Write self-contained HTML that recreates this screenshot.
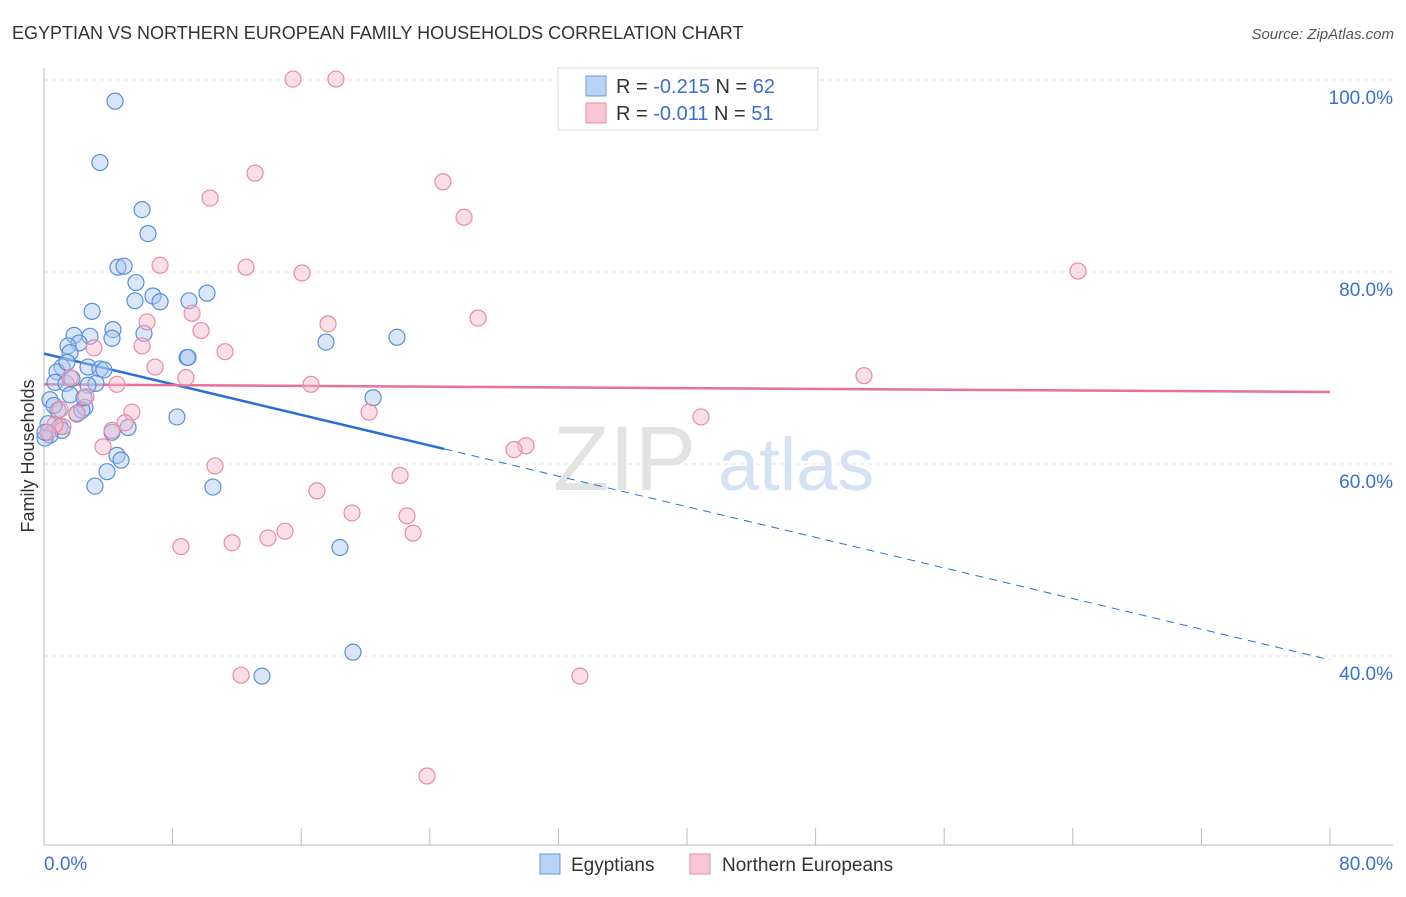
<!DOCTYPE html>
<html><head><meta charset="utf-8">
<style>
body{margin:0;background:#fff;font-family:"Liberation Sans",sans-serif;}
svg text{font-family:"Liberation Sans",sans-serif;}
</style></head>
<body>
<svg id="chart" width="1406" height="892" viewBox="0 0 1406 892">
<text x="12" y="39" font-size="18" fill="#333">EGYPTIAN VS NORTHERN EUROPEAN FAMILY HOUSEHOLDS CORRELATION CHART</text>
<text x="1394" y="39" font-size="15" fill="#555" font-style="italic" text-anchor="end">Source: ZipAtlas.com</text>
<g>
<text x="553" y="490" font-size="92" fill="#d8d8d8" font-family="Liberation Serif" opacity="0.7">ZIP</text>
<text x="718" y="490" font-size="74" fill="#b8d0ee" opacity="0.6">atlas</text>
</g>
<g id="grid"></g>
<g id="axes"></g>
<g id="trends"></g>
<g id="points"></g>
<text transform="translate(34,456) rotate(-90)" font-size="18" fill="#333" text-anchor="middle">Family Households</text>
<g>
<rect x="558" y="68" width="260" height="62" fill="#fff" stroke="#ddd"/>
<rect x="586" y="76" width="20" height="20" fill="#b8d4f4" stroke="#6a9ad8"/>
<text x="616" y="93" font-size="20" fill="#333">R = <tspan fill="#3a70d0">-0.215</tspan>   N = <tspan fill="#3a70d0">62</tspan></text>
<rect x="586" y="103" width="20" height="20" fill="#f9c6d6" stroke="#e88aa8"/>
<text x="616" y="120" font-size="20" fill="#333">R = <tspan fill="#3a70d0">-0.011</tspan>   N = <tspan fill="#3a70d0">51</tspan></text>
</g>
<g>
<rect x="540" y="854" width="20" height="20" fill="#b8d4f4" stroke="#6a9ad8"/>
<text x="571" y="871" font-size="19" fill="#333">Egyptians</text>
<rect x="690" y="854" width="20" height="20" fill="#f9c6d6" stroke="#e88aa8"/>
<text x="722" y="871" font-size="19" fill="#333">Northern Europeans</text>
</g>
</svg>
<script>
const blueX=[4.42,3.48,6.10,6.47,4.60,4.98,5.72,5.66,6.78,7.22,10.14,9.02,2.99,1.87,2.86,2.18,4.29,4.23,6.22,1.49,1.62,8.90,8.96,17.54,21.96,1.12,0.81,2.74,3.48,3.73,0.68,1.37,1.74,3.23,2.74,1.62,20.47,0.37,0.87,2.05,2.55,2.36,8.27,0.25,1.00,1.12,0.37,4.23,5.23,0.06,4.54,4.79,3.92,3.17,10.51,18.41,19.22,13.56,2.49,1.43,0.62,0.06];
const blueY=[97.8,91.4,86.5,84.0,80.5,80.6,78.9,77.0,77.5,76.9,77.8,77.0,75.9,73.4,73.3,72.6,74.0,73.1,73.6,72.3,71.6,71.1,71.1,72.7,73.2,70.1,69.6,70.1,69.9,69.8,68.5,68.4,68.9,68.4,68.2,67.2,66.9,66.7,65.6,65.2,65.9,65.6,64.9,64.2,63.9,63.5,63.0,63.3,63.8,62.7,60.9,60.4,59.2,57.7,57.6,51.3,40.4,37.9,66.9,70.6,66.1,63.3];
const pinkX=[15.49,18.16,13.13,24.82,10.33,26.13,7.22,12.57,16.05,64.32,27.0,9.21,6.41,17.67,9.77,3.11,6.10,11.26,6.91,8.83,16.61,51.01,1.62,4.54,2.61,1.00,5.47,2.05,20.22,40.87,5.04,1.18,4.23,3.67,29.98,29.24,10.64,22.15,16.98,19.16,22.58,22.96,14.99,13.93,11.70,8.52,12.26,33.34,23.83,0.68,0.25];
const pinkY=[100.1,100.1,90.3,89.4,87.7,85.7,80.7,80.5,79.9,80.1,75.2,75.7,74.8,74.6,73.9,72.1,72.3,71.7,70.1,69.0,68.3,69.2,69.0,68.3,67.0,65.7,65.4,65.3,65.4,64.9,64.3,63.9,63.5,61.8,61.9,61.5,59.8,58.8,57.2,54.9,54.6,52.8,53.0,52.3,51.8,51.4,38.0,37.9,27.5,64.1,63.3];
const yTicks=[100,80,60,40];
const yTickLabels=["100.0%","80.0%","60.0%","40.0%"];
const xTickLabels=["0.0%","80.0%"];
const blueTrend=[71.5,39.6];
const blueSolidEnd=24.9;
const pinkTrend=[68.3,67.5];

const NS="http://www.w3.org/2000/svg";
const xs=v=>44+v*16.075;
const ys=v=>80+(100-v)*9.6;
function mk(tag,attrs,parent){const e=document.createElementNS(NS,tag);for(const k in attrs)e.setAttribute(k,attrs[k]);parent.appendChild(e);return e;}
const grid=document.getElementById('grid'),axes=document.getElementById('axes'),trends=document.getElementById('trends'),pts=document.getElementById('points');
yTicks.forEach((t,i)=>{
 const l=mk('line',{x1:44,x2:1393,y1:ys(t),y2:ys(t),stroke:'#e2e2e2','stroke-dasharray':'4,4'},grid);
 
 
 const tx=mk('text',{x:1393,y:ys(t)+24,'font-size':19,fill:'#3a70d0','text-anchor':'end'},axes);
 tx.textContent=yTickLabels[i];
 
 
});
let a=mk('line',{x1:44,x2:44,y1:68,y2:845,stroke:'#bbb'},axes);


a=mk('line',{x1:44,x2:1393,y1:845,y2:845,stroke:'#bbb'},axes);


for(let i=0;i<=10;i++){
 const t=mk('line',{x1:xs(i*8),x2:xs(i*8),y1:828,y2:845,stroke:'#bbb'},axes);
 
 
}
let t0=mk('text',{x:44,y:870,'font-size':19,fill:'#3a70d0'},axes);t0.textContent=xTickLabels[0];


let t1=mk('text',{x:1393,y:870,'font-size':19,fill:'#3a70d0','text-anchor':'end'},axes);t1.textContent=xTickLabels[1];



function dot(x,y,fill,stroke,name){
 const c=mk('circle',{cx:xs(x),cy:ys(y),r:8,fill:fill,'fill-opacity':0.45,stroke:stroke,'stroke-width':1.2},pts);
 
 
}
blueX.forEach((x,i)=>dot(x,blueY[i],'#a8c8f0','#5b8fd8','egyptian-point'));
pinkX.forEach((x,i)=>dot(x,pinkY[i],'#f5b8cc','#e88aa8','northern-european-point'));
const bAt=v=>blueTrend[0]+(blueTrend[1]-blueTrend[0])*v/80;
let l=mk('line',{x1:xs(0),y1:ys(blueTrend[0]),x2:xs(blueSolidEnd),y2:ys(bAt(blueSolidEnd)),stroke:'#2a6fd6','stroke-width':2.5},trends);


l=mk('line',{x1:xs(blueSolidEnd),y1:ys(bAt(blueSolidEnd)),x2:xs(80),y2:ys(blueTrend[1]),stroke:'#2a6fd6','stroke-width':1,'stroke-dasharray':'8,6'},trends);


l=mk('line',{x1:xs(0),y1:ys(pinkTrend[0]),x2:xs(80),y2:ys(pinkTrend[1]),stroke:'#e8709a','stroke-width':2.5},trends);


</script>
</body></html>
